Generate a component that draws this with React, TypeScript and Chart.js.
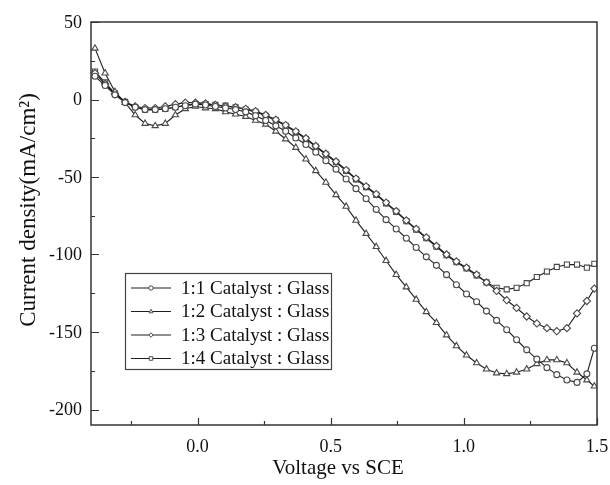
import React, { useEffect, useRef } from "react";
import { Chart, registerables } from "chart.js";
Chart.register(...registerables);

const voltage = [
  -0.385, -0.347, -0.31, -0.272, -0.234, -0.197, -0.159, -0.121, -0.083, -0.046,
  -0.008, 0.03, 0.067, 0.105, 0.143, 0.181, 0.218, 0.256, 0.294, 0.331,
  0.369, 0.407, 0.444, 0.482, 0.52, 0.558, 0.595, 0.633, 0.671, 0.708,
  0.746, 0.784, 0.821, 0.859, 0.897, 0.935, 0.972, 1.01, 1.048, 1.085,
  1.123, 1.161, 1.198, 1.236, 1.274, 1.312, 1.349, 1.387, 1.425, 1.462, 1.49,
];

const ratio11 = [
  15, 9, 3, -2, -5, -6.5, -6.5, -6, -5, -4,
  -3, -3.5, -4.5, -5.5, -6.5, -8, -10.5, -13.5, -17, -20.5,
  -24.8, -29, -34, -39.5, -45, -51.3, -57.5, -64, -71, -77.5,
  -83.5, -89.5, -95.5, -101.5, -107, -113, -119.5, -125.5, -130.5, -136.5,
  -142.5, -148.5, -155, -161.5, -167.5, -173, -177.5, -181, -182.5, -177, -160.5,
];

const ratio12 = [
  33, 17, 5, -2, -10, -15.5, -17, -15.5, -10, -6,
  -4.5, -5.5, -6, -8, -9.5, -11, -13.5, -16, -20.5, -25.5,
  -31, -38.5, -46, -53.5, -61.5, -69, -78, -86.5, -95, -104,
  -113, -121, -129, -137, -144, -152, -159, -165, -170, -174,
  -176.5, -177, -176, -174, -170.5, -168, -168, -170, -176, -181, -185,
];

const ratio13 = [
  17, 10, 3.5, -1.5, -4.5, -5.5, -5.5, -4.5, -3, -2,
  -2, -2.5, -3.5, -4.5, -5, -6, -7.5, -10, -13, -16.5,
  -20.5, -25, -30, -35, -40, -45.5, -51, -56, -61, -66.5,
  -72, -78, -83.5, -89, -94.5, -100, -104.5, -108.5, -113, -118,
  -123.5, -129.5, -134.5, -140, -144.5, -147.5, -149.5, -147.5, -138, -130, -122,
];

const ratio14 = [
  18, 11, 4, -1.5, -5, -6.5, -6.5, -6, -5, -3.5,
  -3, -3, -3.5, -4, -5, -6.5, -8, -10.5, -13.5, -17,
  -21, -25.5, -30.5, -35.5, -40.5, -46, -51.5, -56.5, -61.5, -67,
  -72.5, -78.5, -84, -89.5, -95, -100.5, -105, -109, -113.5, -118,
  -121.5, -122.5, -121.5, -118.5, -114.5, -111, -108, -106.5, -106.5, -108.5, -106,
];

const seriesLabels = [
  "1:1 Catalyst : Glass",
  "1:2 Catalyst : Glass",
  "1:3 Catalyst : Glass",
  "1:4 Catalyst : Glass",
];
const seriesValues = [ratio11, ratio12, ratio13, ratio14];
const pointStyles = ["circle", "triangle", "rectRot", "rect"];
const pointRadii = [3, 3.6, 3.6, 3.6];

const xTicks = [0, 0.5, 1.0, 1.5];
const xTickLabels = ["0.0", "0.5", "1.0", "1.5"];
const xMinorTicks = [-0.25, 0.25, 0.75, 1.25];
const yTicks = [-200, -150, -100, -50, 0, 50];
const yTickLabels = ["-200", "-150", "-100", "-50", "0", "50"];
const yMinorTicks = [-175, -125, -75, -25, 25];

const xTitle = "Voltage vs SCE";
const yTitle = "Current density(mA/cm²)";

const FONT = "'Liberation Serif', 'Times New Roman', serif";
const LINE = "#1e1e1e";
const MARK = "#4a4a4a";

function drawMarker(ctx, style, x, y, r) {
  ctx.beginPath();
  if (style === "circle") {
    ctx.arc(x, y, r, 0, Math.PI * 2);
  } else if (style === "triangle") {
    ctx.moveTo(x, y - r);
    ctx.lineTo(x + r * 0.9, y + r * 0.6);
    ctx.lineTo(x - r * 0.9, y + r * 0.6);
    ctx.closePath();
  } else if (style === "rectRot") {
    ctx.moveTo(x, y - r);
    ctx.lineTo(x + r, y);
    ctx.lineTo(x, y + r);
    ctx.lineTo(x - r, y);
    ctx.closePath();
  } else {
    ctx.rect(x - r * 0.8, y - r * 0.8, r * 1.6, r * 1.6);
  }
  ctx.fillStyle = "#fff";
  ctx.fill();
  ctx.strokeStyle = MARK;
  ctx.lineWidth = 1;
  ctx.stroke();
}

const decorPlugin = {
  id: "decor",
  afterDraw(chart) {
    const { ctx, chartArea: ca, scales } = chart;
    const xs = scales.x;
    const ys = scales.y;
    ctx.save();
    // frame
    ctx.strokeStyle = "#333";
    ctx.lineWidth = 1.5;
    ctx.strokeRect(ca.left, ca.top, ca.right - ca.left, ca.bottom - ca.top);
    // ticks (inward)
    ctx.lineWidth = 1.2;
    ctx.beginPath();
    xTicks.forEach((v) => {
      const p = Math.round(xs.getPixelForValue(v)) + 0.5;
      ctx.moveTo(p, ca.bottom);
      ctx.lineTo(p, ca.bottom - 7);
    });
    xMinorTicks.forEach((v) => {
      const p = Math.round(xs.getPixelForValue(v)) + 0.5;
      ctx.moveTo(p, ca.bottom);
      ctx.lineTo(p, ca.bottom - 4);
    });
    yTicks.forEach((v) => {
      const p = Math.round(ys.getPixelForValue(v)) + 0.5;
      ctx.moveTo(ca.left, p);
      ctx.lineTo(ca.left + 8, p);
    });
    yMinorTicks.forEach((v) => {
      const p = Math.round(ys.getPixelForValue(v)) + 0.5;
      ctx.moveTo(ca.left, p);
      ctx.lineTo(ca.left + 4, p);
    });
    ctx.stroke();

    // tick labels
    ctx.fillStyle = "#111";
    ctx.font = `18px ${FONT}`;
    ctx.textBaseline = "middle";
    ctx.textAlign = "center";
    xTicks.forEach((v, i) => {
      ctx.fillText(xTickLabels[i], xs.getPixelForValue(v), ca.bottom + 22);
    });
    ctx.textAlign = "right";
    yTicks.forEach((v, i) => {
      ctx.fillText(yTickLabels[i], ca.left - 9, ys.getPixelForValue(v) + 1);
    });

    // axis titles
    ctx.font = `21px ${FONT}`;
    ctx.textAlign = "center";
    ctx.textBaseline = "middle";
    ctx.fillText(xTitle, 338, 468);
    ctx.save();
    ctx.translate(29, 210);
    ctx.rotate(-Math.PI / 2);
    ctx.font = `23px ${FONT}`;
    ctx.fillText(yTitle, 0, 0);
    ctx.restore();

    // legend
    const lx = ca.left + 34;
    const ly = ca.top + 251;
    const lw = 206;
    const lh = 96;
    ctx.fillStyle = "#fff";
    ctx.fillRect(lx, ly, lw, lh);
    ctx.strokeStyle = "#444";
    ctx.lineWidth = 1.2;
    ctx.strokeRect(lx + 0.5, ly + 0.5, lw, lh);
    ctx.font = `19px ${FONT}`;
    ctx.textAlign = "left";
    ctx.textBaseline = "middle";
    seriesLabels.forEach((label, i) => {
      const ry = ly + 15 + i * 23.5;
      ctx.strokeStyle = LINE;
      ctx.lineWidth = 1;
      ctx.beginPath();
      ctx.moveTo(lx + 6, ry);
      ctx.lineTo(lx + 46, ry);
      ctx.stroke();
      drawMarker(ctx, pointStyles[i], lx + 26, ry, 2.2);
      ctx.fillStyle = "#111";
      ctx.fillText(label, lx + 56, ry + 1);
    });
    ctx.restore();
  },
};

export default function App() {
  const ref = useRef(null);
  useEffect(() => {
    const datasets = seriesValues.map((vals, i) => ({
      label: seriesLabels[i],
      data: vals.map((y, j) => ({ x: voltage[j], y })),
      showLine: true,
      borderColor: LINE,
      borderWidth: 1.1,
      pointStyle: pointStyles[i],
      pointRadius: pointRadii[i],
      pointBorderColor: MARK,
      pointBackgroundColor: "#fff",
      pointBorderWidth: 1.1,
      tension: 0,
    }));
    const chart = new Chart(ref.current, {
      type: "scatter",
      data: { datasets },
      options: {
        responsive: false,
        animation: false,
        events: [],
        layout: { padding: { top: 22, right: 13, left: 0, bottom: 0 } },
        plugins: { legend: { display: false }, tooltip: { enabled: false } },
        scales: {
          x: {
            type: "linear",
            min: -0.4,
            max: 1.5,
            afterBuildTicks: (s) => {
              s.ticks = xTicks.map((v) => ({ value: v }));
            },
            afterFit: (s) => {
              s.height = 60;
            },
            grid: { display: false },
            border: { display: false },
            ticks: { display: false },
          },
          y: {
            min: -210,
            max: 50,
            afterBuildTicks: (s) => {
              s.ticks = yTicks.map((v) => ({ value: v }));
            },
            afterFit: (s) => {
              s.width = 91;
            },
            grid: { display: false },
            border: { display: false },
            ticks: { display: false },
          },
        },
      },
      plugins: [decorPlugin],
    });
    return () => chart.destroy();
  }, []);
  return (
    <div style={{ position: "fixed", left: 0, top: 0, width: 610, height: 485, background: "#fff" }}>
      <canvas ref={ref} width={610} height={485} />
    </div>
  );
}
